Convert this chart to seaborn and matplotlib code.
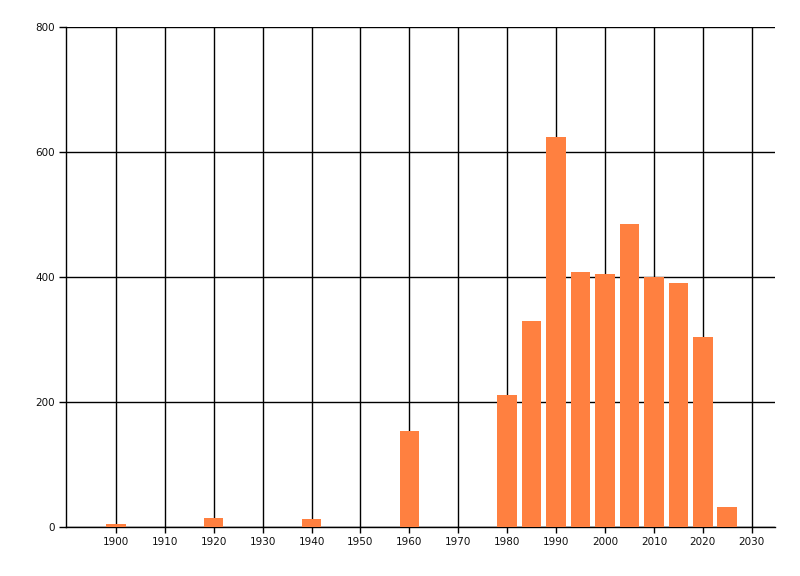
import numpy as np
import pandas as pd
import matplotlib
matplotlib.use("Agg")
import matplotlib.pyplot as plt
import seaborn as sns

# values
years = [1900, 1920, 1940, 1960, 1980, 1985, 1990, 1995, 2000, 2005, 2010, 2015, 2020, 2025]
counts = [5, 15, 13, 154, 211, 330, 624, 408, 405, 485, 400, 390, 304, 32]
x_ticks = list(range(1900, 2031, 10))
y_ticks = [0, 200, 400, 600, 800]

df = pd.DataFrame({"year": years, "count": counts})

sns.set_style("white")
plt.rcParams["font.family"] = ["DejaVu Sans"]

fig = plt.figure(figsize=(8, 5.76), dpi=100)
ax = fig.add_axes([0.0825, 0.085, 0.8865, 0.868])

sns.barplot(data=df, x="year", y="count", native_scale=True, width=0.8,
            color="#FF8040", saturation=1, linewidth=0, ax=ax, zorder=3)

ax.set_xlim(1889.8, 2034.8)
ax.set_ylim(0, 800)
ax.set_xticks(x_ticks)
ax.set_xticklabels([str(t) for t in x_ticks])
ax.set_yticks(y_ticks)
ax.set_yticklabels([str(t) for t in y_ticks])
ax.set_xlabel("")
ax.set_ylabel("")

ax.grid(True, color="black", linewidth=1, zorder=0)
ax.set_axisbelow(True)

for side in ["top", "right"]:
    ax.spines[side].set_visible(False)
for side in ["left", "bottom"]:
    ax.spines[side].set_color("black")
    ax.spines[side].set_linewidth(1)

ax.tick_params(axis="both", which="major", bottom=True, left=True,
               direction="out", length=5, width=1, color="black",
               labelsize=7.5, labelcolor="#101010", pad=3)
ax.tick_params(axis="x", length=4)

fig.savefig("out.png", dpi=100)
